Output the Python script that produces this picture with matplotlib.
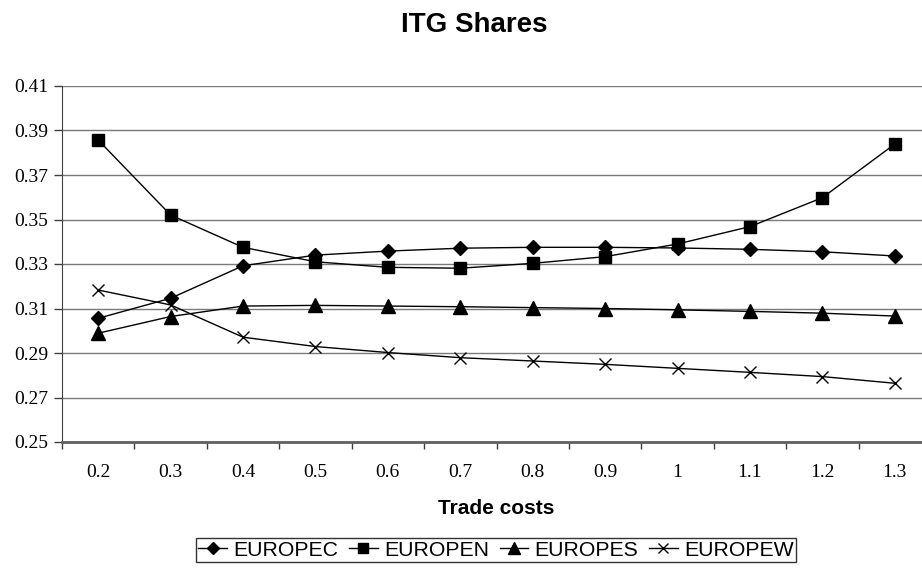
import numpy as np
import matplotlib.pyplot as plt
from matplotlib.ticker import FixedLocator, NullFormatter

costs = ['0.2', '0.3', '0.4', '0.5', '0.6', '0.7', '0.8', '0.9', '1', '1.1', '1.2', '1.3']
europec = [0.3056, 0.3146, 0.3292, 0.3340, 0.3358, 0.3371, 0.3375, 0.3375, 0.3372, 0.3366, 0.3355, 0.3336]
europen = [0.3857, 0.3520, 0.3375, 0.3310, 0.3285, 0.3281, 0.3303, 0.3333, 0.3390, 0.3468, 0.3598, 0.3839]
europes = [0.2989, 0.3064, 0.3111, 0.3114, 0.3111, 0.3108, 0.3104, 0.3100, 0.3094, 0.3087, 0.3079, 0.3066]
europew = [0.3183, 0.3116, 0.2971, 0.2929, 0.2902, 0.2879, 0.2864, 0.2849, 0.2831, 0.2813, 0.2794, 0.2764]
yticks = [0.25, 0.27, 0.29, 0.31, 0.33, 0.35, 0.37, 0.39, 0.41]

W, H = 922, 570
fig = plt.figure(figsize=(W/100, H/100), dpi=100)
ax = fig.add_axes([62/W, 1-442/H, 869/W, 356/H])

x = np.arange(len(costs))
ax.plot(x, europec, 'k-', marker='D', ms=7.5, lw=1, label='EUROPEC')
ax.plot(x, europen, 'k-', marker='s', ms=8.5, lw=1, label='EUROPEN')
ax.plot(x, europes, 'k-', marker='^', ms=9.5, lw=1, label='EUROPES')
ax.plot(x, europew, 'k-', marker='x', ms=9, mew=1, lw=1, label='EUROPEW')

ax.set_xlim(-0.5, len(costs)-0.5)
ax.set_ylim(0.25, 0.41)
ax.set_yticks(yticks)
ax.set_yticklabels(['%.2f' % v for v in yticks], family='Liberation Serif', fontsize=14)
ax.set_xticks(x)
ax.set_xticklabels(costs, family='Liberation Serif', fontsize=14)
ax.tick_params(axis='x', which='major', length=0, pad=16)
ax.xaxis.set_minor_locator(FixedLocator(np.arange(-0.5, len(costs), 1.0)))
ax.xaxis.set_minor_formatter(NullFormatter())
ax.tick_params(axis='x', which='minor', length=5, width=1, color='#404040')
ax.tick_params(axis='y', length=6, width=1, color='#404040', pad=4)

ax.grid(axis='y', color='#7a7a7a', lw=1)
ax.set_axisbelow(True)
for s in ['top', 'right']:
    ax.spines[s].set_visible(False)
ax.spines['left'].set_color('#404040')
ax.spines['bottom'].set_color('#606060')
ax.spines['bottom'].set_linewidth(2)

fig.text(474.5/W, 1-32/H, 'ITG Shares', ha='center', va='baseline',
         family='Liberation Sans', fontweight='bold', fontsize=20)
fig.text(496/W, 1-508/H, 'Trade costs', ha='center', va='center',
         family='Liberation Sans', fontweight='bold', fontsize=15)

leg = fig.legend(loc='center', bbox_to_anchor=(496/W, 1-550/H), ncol=4,
                 prop={'family': 'Liberation Sans', 'size': 15.3},
                 frameon=True, fancybox=False, edgecolor='black',
                 handlelength=1.35, handletextpad=0.3, columnspacing=0.5,
                 borderpad=0.12, borderaxespad=0, markerscale=0.85)
leg.get_frame().set_linewidth(1)

fig.savefig('out.png', dpi=100)
